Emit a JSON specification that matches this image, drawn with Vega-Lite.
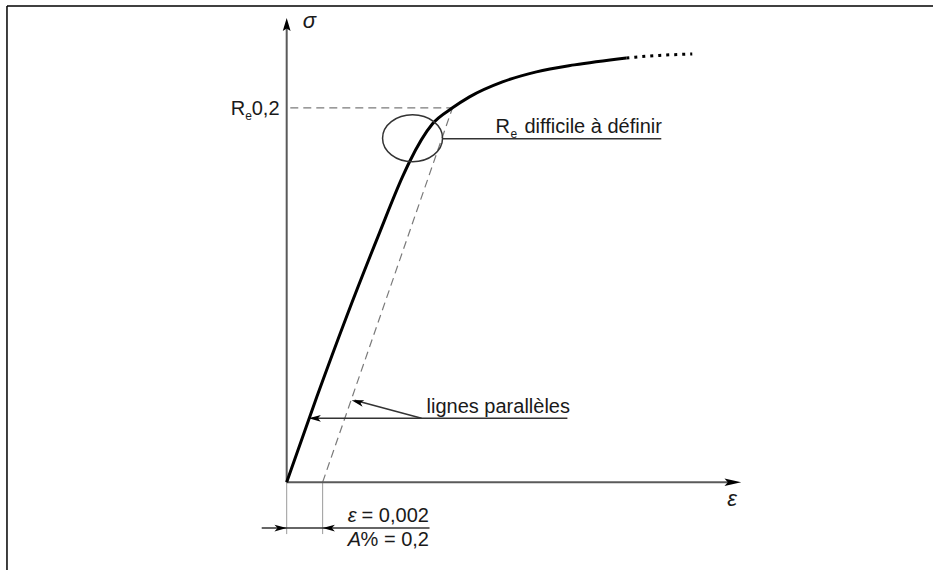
{
  "$schema": "https://vega.github.io/schema/vega-lite/v6.json",
  "width": 934,
  "height": 571,
  "autosize": {"type": "fit", "contains": "padding"},
  "padding": 0,
  "background": "white",
  "config": {"view": {"stroke": null}, "text": {"font": "Liberation Sans", "color": "#1a1a1a"}},
  "datasets": {
    "curve": [
      {"eps": 0, "sig": 0},
      {"eps": 0.001667, "sig": 68},
      {"eps": 0.003333, "sig": 132.8},
      {"eps": 0.005167, "sig": 200},
      {"eps": 0.006444, "sig": 244.8},
      {"eps": 0.006833, "sig": 256.8},
      {"eps": 0.008111, "sig": 287.2},
      {"eps": 0.009222, "sig": 300},
      {"eps": 0.010167, "sig": 308.8},
      {"eps": 0.012, "sig": 320.8},
      {"eps": 0.013889, "sig": 328.8},
      {"eps": 0.016, "sig": 334.4},
      {"eps": 0.018889, "sig": 340}
    ],
    "tail": [
      {"eps": 0.018889, "sig": 340},
      {"eps": 0.020722, "sig": 342},
      {"eps": 0.022556, "sig": 343.2}
    ],
    "segments": [
      {"kind": "frame", "eps": -0.015556, "sig": 381.6, "eps2": 0.035944, "sig2": 381.6},
      {"kind": "frame", "eps": -0.015556, "sig": 381.6, "eps2": -0.015556, "sig2": -70.4},
      {"kind": "axis", "eps": 0, "sig": 0, "eps2": 0, "sig2": 366.4},
      {"kind": "axis", "eps": 0, "sig": 0, "eps2": 0.024611, "sig2": 0},
      {"kind": "dim", "eps": 0, "sig": 0, "eps2": 0, "sig2": -41.6},
      {"kind": "dim", "eps": 0.002, "sig": 0, "eps2": 0.002, "sig2": -41.6},
      {"kind": "leader", "eps": -0.001389, "sig": -36.8, "eps2": 0.007944, "sig2": -36.8},
      {"kind": "leader", "eps": 0.008667, "sig": 275.2, "eps2": 0.020833, "sig2": 275.2},
      {"kind": "leader", "eps": 0.015611, "sig": 51.2, "eps2": 0.001389, "sig2": 51.2},
      {"kind": "leader", "eps": 0.0075, "sig": 51.2, "eps2": 0.003778, "sig2": 65.6},
      {"kind": "dashed", "eps": 0.002, "sig": 0, "eps2": 0.009222, "sig2": 300},
      {"kind": "dashed", "eps": 0.0002, "sig": 300, "eps2": 0.009222, "sig2": 300}
    ],
    "arrows": [
      {"kind": "axis", "dir": "up", "eps": 0, "sig": 372},
      {"kind": "axis", "dir": "right", "eps": 0.025278, "sig": 0},
      {"kind": "leader", "dir": "right", "eps": 0, "sig": -36.8},
      {"kind": "leader", "dir": "left", "eps": 0.002, "sig": -36.8},
      {"kind": "leader", "dir": "left", "eps": 0.001222, "sig": 51.2},
      {"kind": "leader", "dir": "upleft", "eps": 0.003611, "sig": 65.6}
    ],
    "ellipse": [
      {"eps": 0.007, "sig": 275.6}
    ],
    "labels": [
      {"style": "roman", "text": "R", "eps": -0.003111, "sig": 294.4},
      {"style": "sub", "text": "e", "eps": -0.002306, "sig": 290.4},
      {"style": "roman", "text": "0,2", "eps": -0.001944, "sig": 294.4},
      {"style": "roman", "text": "R", "eps": 0.011611, "sig": 280},
      {"style": "sub", "text": "e", "eps": 0.012444, "sig": 276},
      {"style": "roman", "text": "difficile à définir", "eps": 0.013222, "sig": 280},
      {"style": "roman", "text": "lignes parallèles", "eps": 0.007778, "sig": 55.2},
      {"style": "italic", "text": "ε", "eps": 0.003389, "sig": -32},
      {"style": "roman", "text": "= 0,002", "eps": 0.004167, "sig": -32},
      {"style": "italic", "text": "A", "eps": 0.003389, "sig": -51.2},
      {"style": "roman", "text": "% = 0,2", "eps": 0.004111, "sig": -51.2},
      {"style": "greek", "text": "σ", "eps": 0.000889, "sig": 364},
      {"style": "greek", "text": "ε", "eps": 0.0245, "sig": -19.2}
    ]
  },
  "encoding": {
    "x": {"field": "eps", "type": "quantitative", "scale": {"domain": [-0.015944, 0.035944], "nice": false, "zero": false}, "axis": null},
    "y": {"field": "sig", "type": "quantitative", "scale": {"domain": [-70.4, 386.4], "nice": false, "zero": false}, "axis": null}
  },
  "layer": [
    {
      "data": {"name": "segments"},
      "transform": [{"filter": "datum.kind === 'frame'"}],
      "mark": {"type": "rule", "color": "#000000", "strokeWidth": 1.5},
      "encoding": {"x2": {"field": "eps2"}, "y2": {"field": "sig2"}}
    },
    {
      "data": {"name": "segments"},
      "transform": [{"filter": "datum.kind === 'dim'"}],
      "mark": {"type": "rule", "color": "#9a9a9a", "strokeWidth": 1},
      "encoding": {"x2": {"field": "eps2"}, "y2": {"field": "sig2"}}
    },
    {
      "data": {"name": "segments"},
      "transform": [{"filter": "datum.kind === 'dashed'"}],
      "mark": {"type": "rule", "color": "#7a7a7a", "strokeWidth": 1.2, "strokeDash": [8, 5]},
      "encoding": {"x2": {"field": "eps2"}, "y2": {"field": "sig2"}}
    },
    {
      "data": {"name": "segments"},
      "transform": [{"filter": "datum.kind === 'axis'"}],
      "mark": {"type": "rule", "color": "#5a5a5a", "strokeWidth": 2},
      "encoding": {"x2": {"field": "eps2"}, "y2": {"field": "sig2"}}
    },
    {
      "data": {"name": "segments"},
      "transform": [{"filter": "datum.kind === 'leader'"}],
      "mark": {"type": "rule", "color": "#333333", "strokeWidth": 1.5},
      "encoding": {"x2": {"field": "eps2"}, "y2": {"field": "sig2"}}
    },
    {
      "data": {"name": "curve"},
      "mark": {"type": "line", "color": "#000000", "strokeWidth": 3, "interpolate": "monotone"}
    },
    {
      "data": {"name": "tail"},
      "mark": {"type": "line", "color": "#000000", "strokeWidth": 3, "strokeDash": [3, 5], "interpolate": "monotone"}
    },
    {
      "data": {"name": "ellipse"},
      "mark": {"type": "point", "shape": "M-1,0 A1,0.78 0 1,1 1,0 A1,0.78 0 1,1 -1,0 Z", "size": 3600, "filled": false, "stroke": "#333333", "strokeWidth": 1.5, "opacity": 1}
    },
    {
      "data": {"name": "arrows"},
      "transform": [{"filter": "datum.kind === 'axis' && datum.dir === 'up'"}],
      "mark": {"type": "point", "shape": "M0,0 L-2,-0.6 L-1.6,0 L-2,0.6 Z", "size": 170, "angle": 270, "filled": true, "color": "#000000", "opacity": 1}
    },
    {
      "data": {"name": "arrows"},
      "transform": [{"filter": "datum.kind === 'axis' && datum.dir === 'right'"}],
      "mark": {"type": "point", "shape": "M0,0 L-2,-0.45 L-1.6,0 L-2,0.45 Z", "size": 280, "angle": 0, "filled": true, "color": "#000000", "opacity": 1}
    },
    {
      "data": {"name": "arrows"},
      "transform": [{"filter": "datum.kind === 'leader' && datum.dir === 'right'"}],
      "mark": {"type": "point", "shape": "M0,0 L-2,-0.55 L-1.5,0 L-2,0.55 Z", "size": 150, "angle": 0, "filled": true, "color": "#000000", "opacity": 1}
    },
    {
      "data": {"name": "arrows"},
      "transform": [{"filter": "datum.kind === 'leader' && datum.dir === 'left'"}],
      "mark": {"type": "point", "shape": "M0,0 L-2,-0.55 L-1.5,0 L-2,0.55 Z", "size": 150, "angle": 180, "filled": true, "color": "#000000", "opacity": 1}
    },
    {
      "data": {"name": "arrows"},
      "transform": [{"filter": "datum.kind === 'leader' && datum.dir === 'upleft'"}],
      "mark": {"type": "point", "shape": "M0,0 L-2,-0.55 L-1.5,0 L-2,0.55 Z", "size": 150, "angle": 195, "filled": true, "color": "#000000", "opacity": 1}
    },
    {
      "data": {"name": "labels"},
      "transform": [{"filter": "datum.style === 'roman'"}],
      "mark": {"type": "text", "fontSize": 20, "align": "left", "baseline": "alphabetic"},
      "encoding": {"text": {"field": "text"}}
    },
    {
      "data": {"name": "labels"},
      "transform": [{"filter": "datum.style === 'italic'"}],
      "mark": {"type": "text", "fontSize": 20, "fontStyle": "italic", "align": "left", "baseline": "alphabetic"},
      "encoding": {"text": {"field": "text"}}
    },
    {
      "data": {"name": "labels"},
      "transform": [{"filter": "datum.style === 'sub'"}],
      "mark": {"type": "text", "fontSize": 12, "align": "left", "baseline": "alphabetic"},
      "encoding": {"text": {"field": "text"}}
    },
    {
      "data": {"name": "labels"},
      "transform": [{"filter": "datum.style === 'greek'"}],
      "mark": {"type": "text", "fontSize": 22, "fontStyle": "italic", "align": "left", "baseline": "alphabetic"},
      "encoding": {"text": {"field": "text"}}
    }
  ]
}
